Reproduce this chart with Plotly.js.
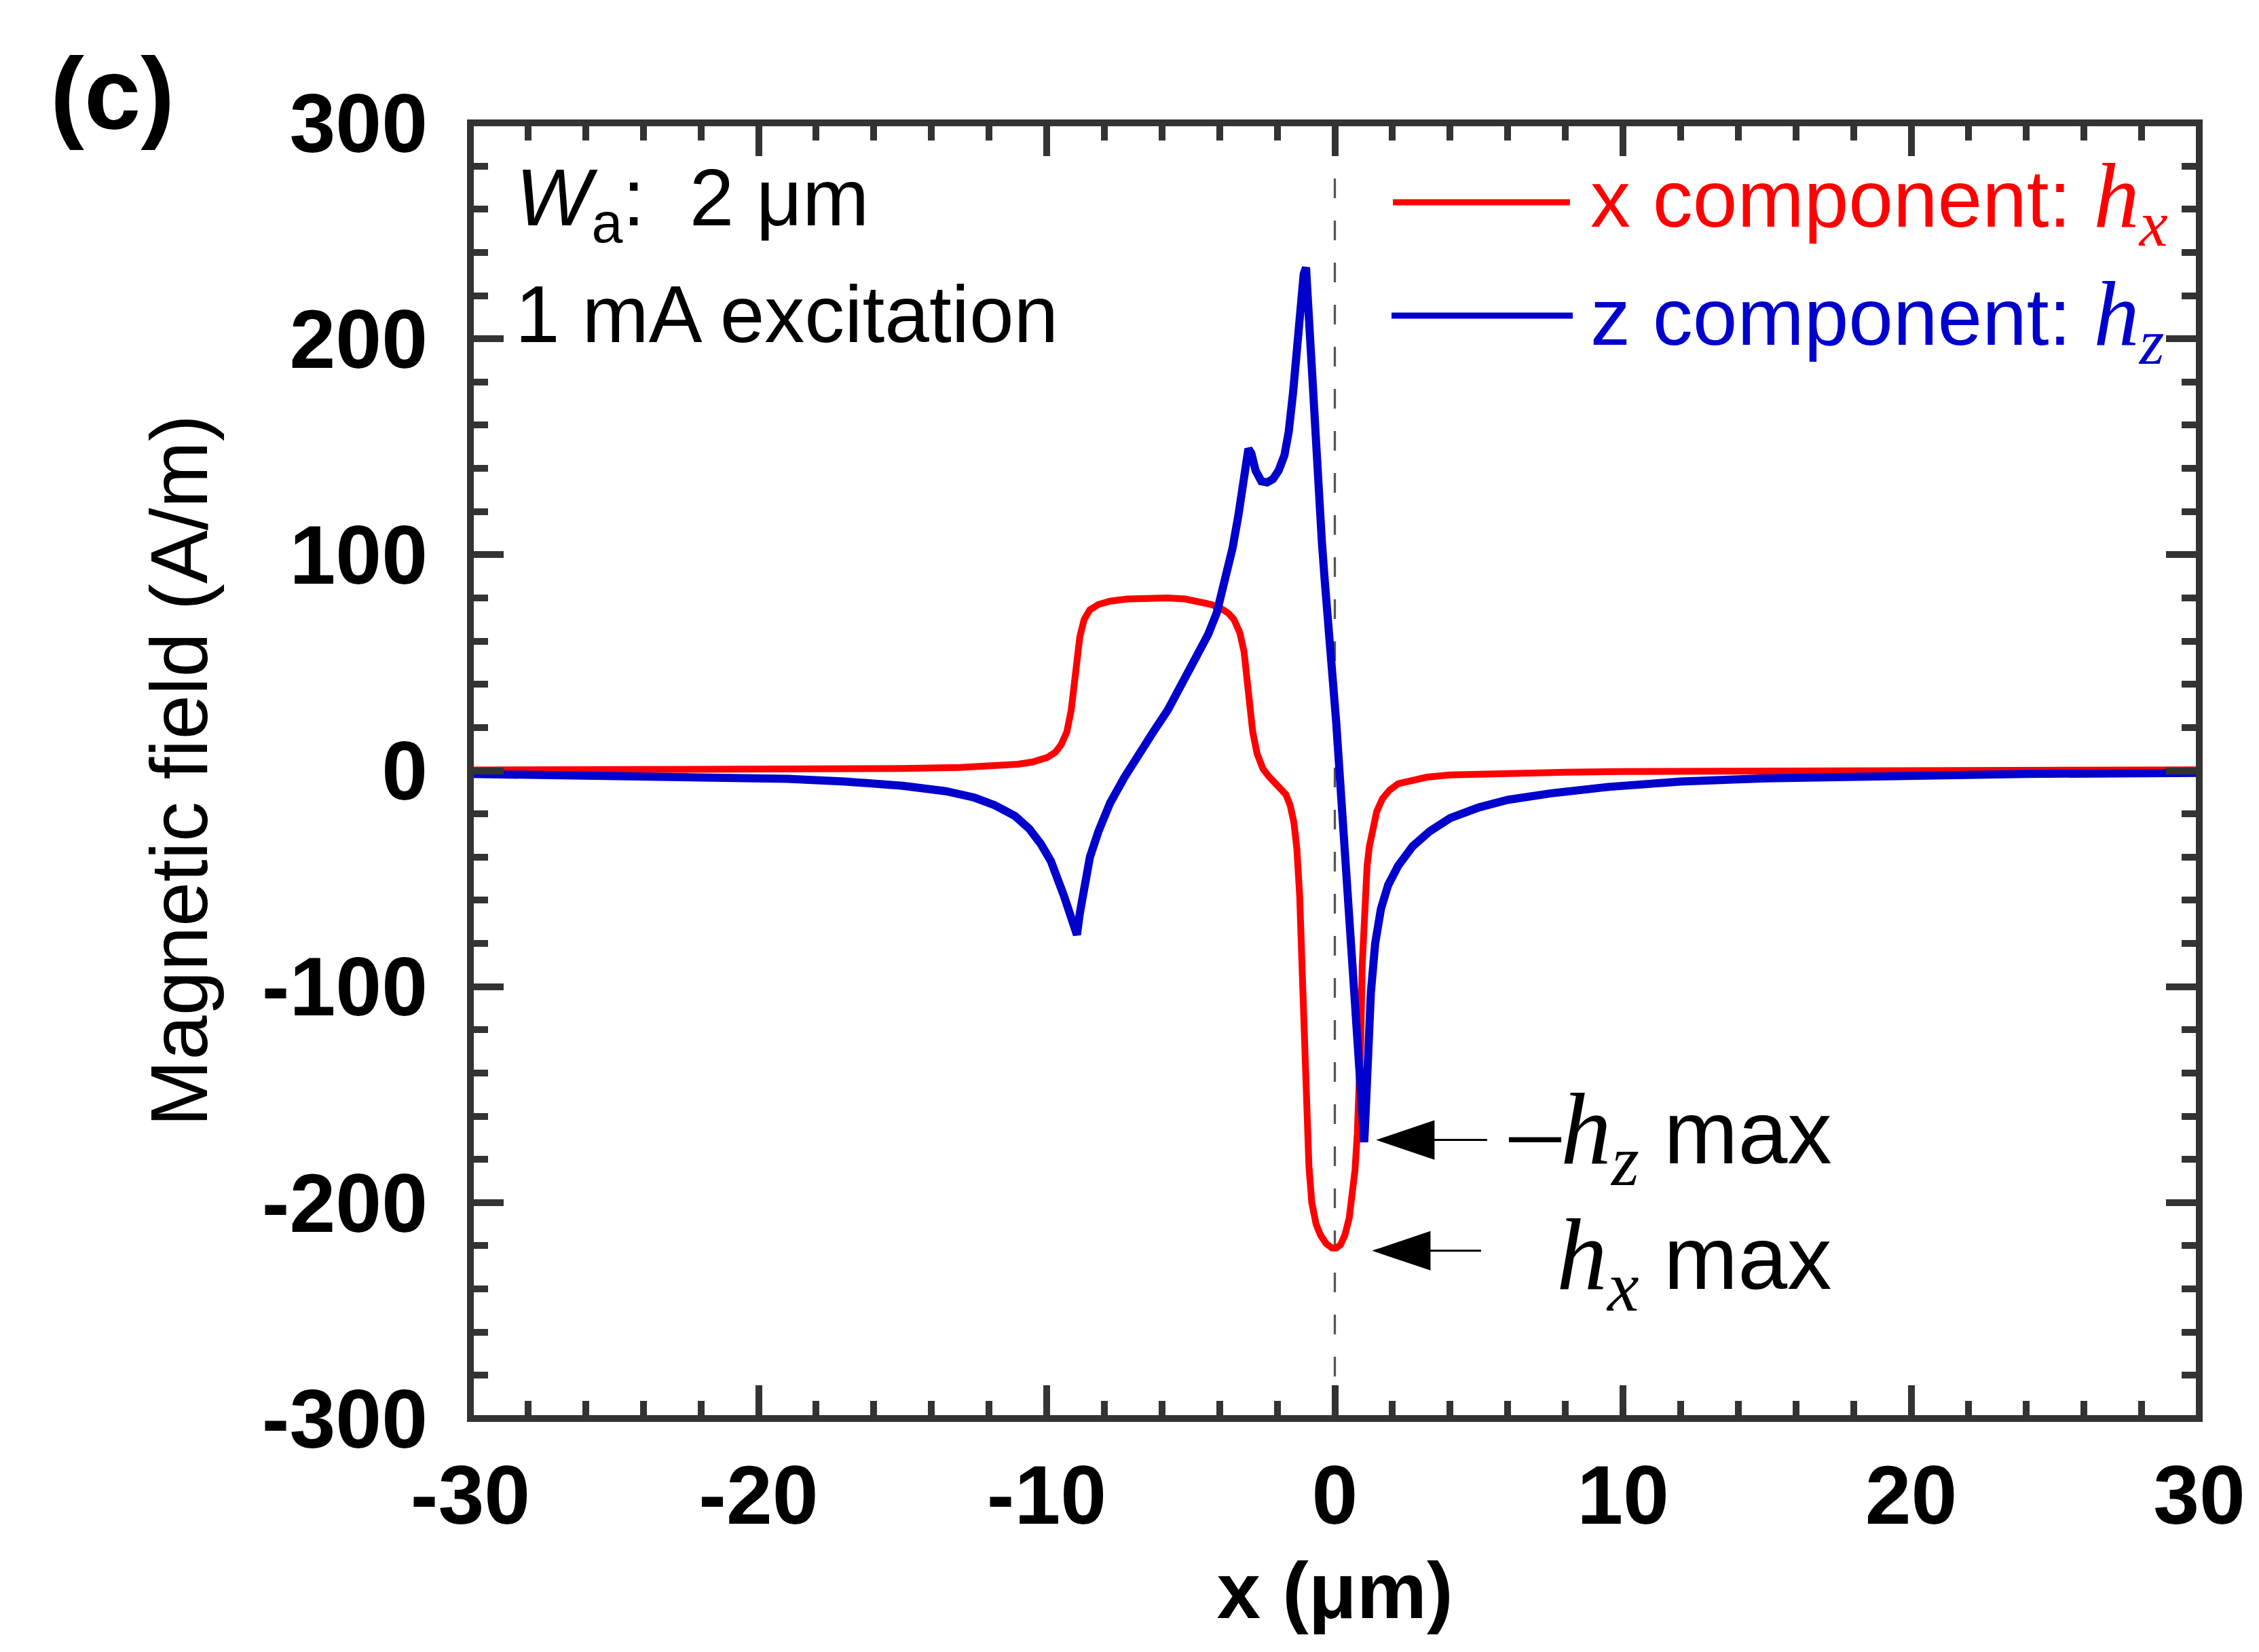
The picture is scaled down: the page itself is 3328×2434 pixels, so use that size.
<!DOCTYPE html>
<html>
<head>
<meta charset="utf-8">
<script src="https://cdn.plot.ly/plotly-3.0.1.min.js"></script>
<style>html,body{margin:0;padding:0;background:#fff;}#chart{width:3328px;height:2434px;}</style>
</head>
<body>
<div id="chart"></div>
<script>
// ---- data ----
const xHx = [-30,-25,-20,-17,-15,-13,-12,-11,-10.5,-10,-9.7,-9.5,-9.3,-9.15,-9.0,-8.85,-8.7,-8.5,-8.2,-7.8,-7.2,-6.5,-5.8,-5.2,-4.7,-4.3,-4.0,-3.7,-3.5,-3.3,-3.15,-3.05,-2.95,-2.85,-2.7,-2.5,-2.3,-2.1,-1.9,-1.7,-1.55,-1.42,-1.32,-1.22,-1.14,-1.06,-0.98,-0.9,-0.8,-0.65,-0.5,-0.3,-0.1,0.05,0.2,0.35,0.5,0.6,0.7,0.78,0.85,0.9,0.95,1.0,1.05,1.12,1.2,1.3,1.45,1.65,1.9,2.2,2.6,3.2,4,5,6.5,8,10,13,17,22,26,30];
const hx  = [0.3,0.4,0.6,0.8,1.0,1.5,2,3,4,6,8.5,12,18,28,45,62,70,74.5,77,78.5,79.5,80,80,79.5,78.5,77,75.5,73,70,64,55,42,30,18,8,1,-2.5,-5,-7.5,-11,-16,-24,-36,-58,-90,-125,-158,-183,-200,-210,-215,-219,-221,-221,-219.5,-215,-207,-198,-185,-168,-145,-125,-90,-70,-57,-44,-35,-27,-19,-13,-9,-6,-4.5,-3,-2,-1.5,-1,-0.7,-0.4,-0.2,0,0.2,0.3,0.4];

const xHz = [-30,-26,-22,-19,-17,-15,-13.5,-12.5,-11.8,-11.1,-10.6,-10.2,-9.85,-9.6,-9.4,-9.2,-9.05,-8.95,-8.85,-8.7,-8.5,-8.2,-7.8,-7.3,-6.8,-6.3,-5.8,-5.3,-4.8,-4.4,-4.1,-3.8,-3.55,-3.35,-3.2,-3.1,-3.0,-2.9,-2.75,-2.55,-2.35,-2.15,-1.95,-1.75,-1.6,-1.45,-1.3,-1.18,-1.08,-1.0,-0.92,-0.82,-0.7,-0.58,-0.45,-0.35,-0.25,-0.15,-0.05,0.05,0.15,0.25,0.35,0.45,0.55,0.65,0.75,0.85,0.95,1.02,1.08,1.15,1.25,1.4,1.6,1.85,2.2,2.7,3.3,4,5,6,7.5,9.5,12,15,19,24,30];
const hz  = [-1.5,-2,-2.8,-3.8,-5,-7,-9.5,-12.5,-16,-21,-27,-34,-42,-50,-58,-66,-74,-76,-66,-52,-40,-28,-15,-3,8,18,28,40,52,63,73,88,103,118,133,145,149,147,139,134,133.5,135,139,146,157,175,198,218,230,233,212,185,158,132,106,88,73,60,42,22,2,-18,-40,-60,-82,-104,-126,-146,-164,-172,-155,-128,-103,-80,-64,-53,-44,-35,-28,-22,-17,-13.5,-10.5,-7.5,-5,-3.5,-2.3,-1.5,-1];

const xTickVals = [-30,-20,-10,0,10,20,30];
const xTickText = ['-30','-20','-10','0','10','20','30'];
const yTickVals = [-300,-200,-100,0,100,200,300];
const yTickText = ['-300','-200','-100','0','100','200','300'];

const seriesNames = ['x component: h_x','z component: h_z'];
const arrowTips = {hz: [1.54,-171], hx: [1.40,-222.3]};

// ---- styling ----
const SANS = 'Liberation Sans, Arial, sans-serif';
const RED = '#ff0000';
const BLUE = '#0000cd';
const FRAME = '#333333';

const traces = [
  {x: xHx, y: hx, type: 'scatter', mode: 'lines', name: seriesNames[0],
   line: {color: RED, width: 10}, showlegend: false},
  {x: xHz, y: hz, type: 'scatter', mode: 'lines', name: seriesNames[1],
   line: {color: BLUE, width: 12}, showlegend: false}
];

const axisCommon = {
  showgrid: false, zeroline: false,
  showline: false, mirror: 'ticks',
  ticks: 'inside', ticklen: 49, tickwidth: 10, tickcolor: FRAME,
  tickfont: {family: SANS, size: 122, weight: 'bold', color: '#000'},
  tickmode: 'array'
};

const layout = {
  width: 3328, height: 2434,
  margin: {l: 693, r: 88, t: 181, b: 344, pad: 0},
  paper_bgcolor: '#fff', plot_bgcolor: '#fff',
  showlegend: false,
  xaxis: Object.assign({}, axisCommon, {
    range: [-30, 30], tickvals: xTickVals, ticktext: xTickText,
    ticklabelstandoff: 32,
    minor: {dtick: 2, tick0: -30, ticks: 'inside', ticklen: 26, tickwidth: 10, tickcolor: FRAME},
    title: {text: 'x (μm)', font: {family: SANS, size: 116, weight: 'bold', color: '#000'}, standoff: 32}
  }),
  yaxis: Object.assign({}, axisCommon, {
    range: [-300, 300], tickvals: yTickVals, ticktext: yTickText,
    ticklabelstandoff: 62,
    minor: {dtick: 20, tick0: -300, ticks: 'inside', ticklen: 26, tickwidth: 10, tickcolor: FRAME},
    title: {text: 'Magnetic field (A/m)', font: {family: SANS, size: 118, color: '#000'}, standoff: 40}
  }),
  shapes: [
    {type: 'line', xref: 'x', yref: 'paper', x0: 0, x1: 0, y0: 0, y1: 1, layer: 'below',
     line: {color: '#555', width: 3.3, dash: '29px,33px'}},
    {type: 'rect', xref: 'paper', yref: 'paper', x0: 0, x1: 1, y0: 0, y1: 1, layer: 'above',
     line: {color: FRAME, width: 10}, fillcolor: 'rgba(0,0,0,0)'},
    {type: 'line', xref: 'paper', yref: 'paper', x0: 0.5336, x1: 0.6360, y0: 0.9387, y1: 0.9387,
     line: {color: RED, width: 9}},
    {type: 'line', xref: 'paper', yref: 'paper', x0: 0.5328, x1: 0.6376, y0: 0.8512, y1: 0.8512,
     line: {color: BLUE, width: 9}},
    {type: 'path', xref: 'x', yref: 'y', xsizemode: 'pixel', ysizemode: 'pixel',
     xanchor: arrowTips.hz[0], yanchor: arrowTips.hz[1],
     path: 'M0,0 L80,27 L80,-27 Z M80,0 L159,0', fillcolor: '#000', line: {color: '#000', width: 3}},
    {type: 'path', xref: 'x', yref: 'y', xsizemode: 'pixel', ysizemode: 'pixel',
     xanchor: arrowTips.hx[0], yanchor: arrowTips.hx[1],
     path: 'M0,0 L80,27 L80,-27 Z M80,0 L156,0', fillcolor: '#000', line: {color: '#000', width: 3}}
  ],
  annotations: [
    {xref: 'paper', yref: 'paper', x: -0.2073, y: 1.0225, xanchor: 'center', yanchor: 'middle',
     text: '(c)', showarrow: false, font: {family: SANS, size: 150, weight: 'bold', color: '#000'}},
    {xref: 'paper', yref: 'paper', x: 0.0255, y: 0.9377, xanchor: 'left', yanchor: 'middle',
     text: '<i>W</i><sub>a</sub>:\u00a0\u00a02 μm', showarrow: false,
     font: {family: SANS, size: 118, color: '#000'}},
    {xref: 'paper', yref: 'paper', x: 0.0251, y: 0.8523, xanchor: 'left', yanchor: 'middle',
     text: '1 mA excitation', showarrow: false, font: {family: SANS, size: 118, color: '#000'}},
    {xref: 'paper', yref: 'paper', x: 0.6470, y: 0.9387, xanchor: 'left', yanchor: 'middle',
     text: 'x component: <span style="font-family:Liberation Serif;font-size:135px"><i>h<sub>x</sub></i></span>',
     showarrow: false, font: {family: SANS, size: 118, color: RED}},
    {xref: 'paper', yref: 'paper', x: 0.6470, y: 0.8475, xanchor: 'left', yanchor: 'middle',
     text: 'z component: <span style="font-family:Liberation Serif;font-size:135px"><i>h<sub>z</sub></i></span>',
     showarrow: false, font: {family: SANS, size: 118, color: BLUE}},
    {xref: 'paper', yref: 'paper', x: 0.7884, y: 0.2174, xanchor: 'right', yanchor: 'middle',
     text: '<span style="font-family:Liberation Serif;font-size:150px">–<i>h<sub>z</sub></i></span> max',
     showarrow: false, font: {family: SANS, size: 131, color: '#000'}},
    {xref: 'paper', yref: 'paper', x: 0.7884, y: 0.1205, xanchor: 'right', yanchor: 'middle',
     text: '<span style="font-family:Liberation Serif;font-size:150px"><i>h<sub>x</sub></i></span> max',
     showarrow: false, font: {family: SANS, size: 131, color: '#000'}}
  ]
};

Plotly.newPlot('chart', traces, layout, {displayModeBar: false, staticPlot: true});
</script>
</body>
</html>
